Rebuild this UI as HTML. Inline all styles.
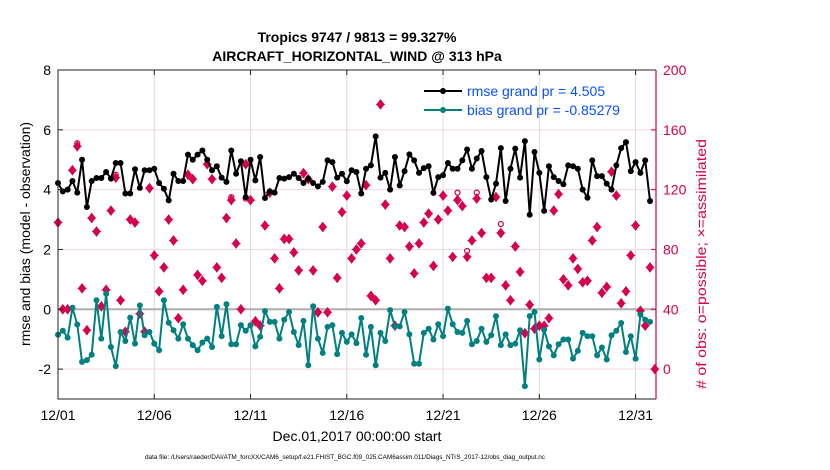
<!DOCTYPE html>
<html><head><meta charset="utf-8"><style>
body{margin:0;background:#fff;}
svg{display:block;font-family:"Liberation Sans",Arial,sans-serif;}
</style></head><body>
<svg id="chart" width="830" height="470" viewBox="0 0 830 470">
<text x="357" y="42" text-anchor="middle" font-size="14" font-weight="bold">Tropics 9747 / 9813 = 99.327%</text>
<text x="357" y="61" text-anchor="middle" font-size="14" font-weight="bold">AIRCRAFT_HORIZONTAL_WIND @ 313 hPa</text>
<g id="grid"></g>
<g id="marks"></g>
<g id="axes"></g>
<text transform="translate(30,234) rotate(-90)" text-anchor="middle" font-size="14">rmse and bias (model - observation)</text>
<text transform="translate(706,264) rotate(-90)" text-anchor="middle" font-size="14" fill="#d6004f" textLength="250" lengthAdjust="spacingAndGlyphs"># of obs: o=possible; ×=assimilated</text>
<text x="357" y="441" text-anchor="middle" font-size="14">Dec.01,2017 00:00:00 start</text>
<text x="345" y="459" text-anchor="middle" font-size="6.2" textLength="400" lengthAdjust="spacingAndGlyphs">data file: /Users/raeder/DAI/ATM_forcXX/CAM6_setup/f.e21.FHIST_BGC.f09_025.CAM6assim.011/Diags_NTrS_2017-12/obs_diag_output.nc</text>
<g>
<line x1="424" y1="91" x2="462" y2="91" stroke="#000" stroke-width="2"/>
<circle cx="443" cy="91" r="3" fill="#000"/>
<text x="467" y="96" font-size="14" fill="#0a50ff">rmse grand pr = 4.505</text>
<line x1="424" y1="110" x2="462" y2="110" stroke="#008080" stroke-width="2"/>
<circle cx="443" cy="110" r="3" fill="#008080"/>
<text x="467" y="115" font-size="14" fill="#0a50ff">bias grand pr = -0.85279</text>
</g>
</svg>
<script>
const xTickLabels = ["12/01","12/06","12/11","12/16","12/21","12/26","12/31"];
const xTickDays = [0,5,10,15,20,25,30];
const leftTicks = [-2,0,2,4,6,8];
const rightTicks = [0,40,80,120,160,200];
const stepDays = 0.25;
const rmse = [4.22,3.94,4.0,4.29,3.9,5.0,3.42,4.29,4.39,4.39,4.59,4.37,4.89,4.89,3.87,3.87,4.68,4.06,4.65,4.65,4.7,4.22,4.03,3.64,4.53,4.29,4.29,5.17,5.0,5.17,5.31,5.0,4.65,4.78,4.4,4.26,5.31,4.53,4.95,3.75,5.0,4.31,5.09,3.72,3.94,3.9,4.39,4.37,4.42,4.53,4.39,4.22,4.37,4.22,4.11,4.26,4.98,4.92,4.4,4.53,4.28,4.65,4.59,3.87,4.7,4.81,5.78,4.4,4.56,4.0,5.09,4.14,4.62,5.18,4.98,4.56,4.72,4.78,3.89,4.42,4.48,4.89,4.7,4.7,4.98,5.34,4.7,5.04,5.29,4.42,3.67,4.2,5.39,3.62,4.7,5.37,4.4,5.62,3.16,5.26,4.56,3.29,4.78,4.42,4.29,4.18,4.81,4.78,4.7,4.0,3.73,4.98,4.45,4.45,4.2,4.0,4.81,5.39,5.59,4.62,4.92,4.56,4.98,3.62];
const bias = [-0.85,-0.72,-0.95,0.05,-0.51,-1.76,-1.7,-1.52,0.3,-0.98,0.52,-1.26,-1.9,-0.76,-1.06,-0.28,-1.15,0.13,-0.87,-0.76,-1.15,-1.37,0.3,-0.45,-0.7,-0.98,-0.5,-0.98,-1.2,-1.37,-1.11,-0.98,-1.26,0.08,-0.9,0.17,-1.17,-1.17,-0.53,-0.72,-0.53,-1.24,-0.92,-0.06,-0.42,-0.42,-0.98,-0.35,-0.09,-0.76,-1.2,-0.39,-1.87,0.1,-0.98,-1.46,-0.59,-0.53,-1.5,-0.79,-1.09,-0.84,-1.13,-0.29,-1.52,-0.59,-1.87,-0.79,-1.06,-0.03,-0.57,-0.57,-0.09,-0.84,-1.82,-1.82,-0.79,-0.65,-1.01,-0.5,-0.9,0.02,-0.5,-0.76,-0.79,-0.39,-1.17,-1.06,-0.65,-1.09,-0.87,-0.23,-1.2,-0.84,-1.2,-1.15,-0.7,-2.57,-0.23,-0.09,-1.68,-0.68,-1.24,-1.54,-1.17,-1.01,-1.01,-1.65,-1.39,-0.79,-0.9,-0.9,-1.54,-1.28,-1.68,-0.87,-0.72,-0.46,-1.43,-0.9,-1.65,-0.17,-0.35,-0.42];
const obsAssim = [98,40,40,133,149,54,26,101,92,42,53,106,128,46,25,100,98,37,25,121,76,52,68,100,86,34,53,130,127,63,59,137,127,68,61,101,113,84,40,137,113,32,29,96,118,74,54,87,87,78,66,131,127,66,38,95,38,122,61,105,116,74,80,84,123,49,46,177,110,74,29,96,95,82,64,84,98,104,69,100,116,106,75,113,109,75,86,114,91,61,61,115,91,56,46,82,65,24,43,27,29,29,34,106,117,60,56,74,67,58,59,86,95,51,55,132,116,44,52,76,96,39,29,68,0];
const obsPossibleIdx = [83,85,87,92,36,39,12,4];
const obsPossible = [118,79,118,97,115,114,130,151];

const X0=58,X1=656,Y0=70,Y1=399;
const xDomain=[0,31.06];
function xs(d){return X0+(d-xDomain[0])/(xDomain[1]-xDomain[0])*(X1-X0);}
function yl(v){return Y1-(v+3)/11*(Y1-Y0);}
function yr(c){return Y1-(c+20)/220*(Y1-Y0);}
const NS="http://www.w3.org/2000/svg";
function mk(tag,attrs,parent){const e=document.createElementNS(NS,tag);for(const k in attrs)e.setAttribute(k,attrs[k]);parent.appendChild(e);return e;}
const grid=document.getElementById('grid'),marks=document.getElementById('marks'),axes=document.getElementById('axes');

xTickDays.forEach((d,i)=>{
  const g=mk('line',{x1:xs(d),x2:xs(d),y1:Y0,y2:Y1,stroke:'#dcdcdc','stroke-width':1},grid);
  
  
  const t=mk('line',{x1:xs(d),x2:xs(d),y1:Y1,y2:Y1-5,stroke:'#222'},axes);
  
  
  const tt=mk('line',{x1:xs(d),x2:xs(d),y1:Y0,y2:Y0+5,stroke:'#222'},axes);
  
  
  const l=mk('text',{x:xs(d),y:420,'text-anchor':'middle','font-size':14},axes);
  l.textContent=xTickLabels[i];
  
  
});
leftTicks.forEach(v=>{
  if(v!==0&&v!==8){
    const g=mk('line',{x1:X0,x2:X1,y1:yl(v),y2:yl(v),stroke:'#f3d6e0','stroke-width':1},grid);
    
    
  }
  const t=mk('line',{x1:X0,x2:X0+5,y1:yl(v),y2:yl(v),stroke:'#222'},axes);
  
  
  const l=mk('text',{x:51,y:yl(v)+5,'text-anchor':'end','font-size':14},axes);
  l.textContent=String(v);
  
  
});
const zl=mk('line',{x1:X0,x2:X1,y1:yl(0),y2:yl(0),stroke:'#b4b4b4','stroke-width':2.2},grid);



rightTicks.forEach(c=>{
  const t=mk('line',{x1:X1-5,x2:X1,y1:yr(c),y2:yr(c),stroke:'#d6004f'},axes);
  
  
  const l=mk('text',{x:663,y:yr(c)+5,'font-size':14,fill:'#d6004f'},axes);
  l.textContent=String(c);
  
  
});
const frame=mk('path',{d:`M${X1},${Y0}H${X0}V${Y1}H${X1}`,fill:'none',stroke:'#222','stroke-width':1},axes);


const ra=mk('line',{x1:X1,x2:X1,y1:Y0,y2:Y1,stroke:'#d6004f','stroke-width':1.2},axes);



function drawObs(c,i){
  const x=xs(i*stepDays),y=yr(c);
  const g=mk('path',{d:`M${x},${y-4.5}L${x+3.5},${y}L${x},${y+4.5}L${x-3.5},${y}Z M${x-4.5},${y}H${x+4.5} M${x},${y-5}V${y+5}`,fill:'#d6004f',stroke:'#d6004f','stroke-width':1},marks);
  
  
}
obsAssim.forEach((c,i)=>drawObs(c,i));
obsPossibleIdx.forEach((idx,k)=>{
  const c=mk('circle',{cx:xs(idx*stepDays),cy:yr(obsPossible[k]),r:2.5,fill:'none',stroke:'#d6004f','stroke-width':1.2},marks);
  
  
});
function series(vals,color,name){
  const pts=vals.map((v,i)=>xs(i*stepDays)+','+yl(v)).join(' ');
  const p=mk('polyline',{points:pts,fill:'none',stroke:color,'stroke-width':2,'stroke-linejoin':'round'},marks);
  
  
  vals.forEach((v,i)=>{
    const c=mk('circle',{cx:xs(i*stepDays),cy:yl(v),r:3,fill:color},marks);
    
    
  });
}
series(rmse,'#000','rmse');
series(bias,'#008080','bias');
</script>
</body></html>
